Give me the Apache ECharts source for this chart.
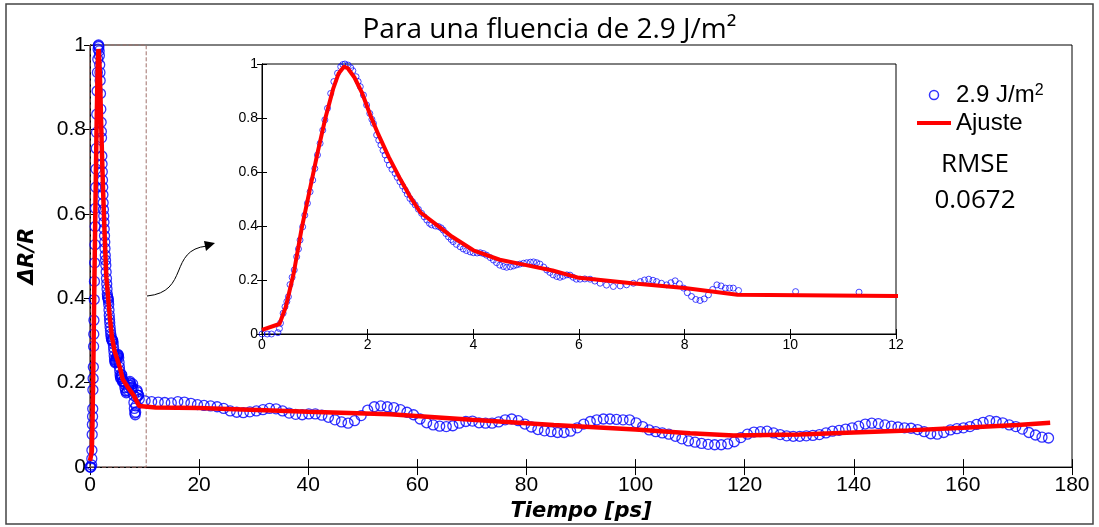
<!DOCTYPE html>
<html>
<head>
<meta charset="utf-8">
<title>Para una fluencia de 2.9 J/m2</title>
<script src="https://cdn.jsdelivr.net/npm/echarts@6/dist/echarts.min.js"></script>
<style>
  html, body { margin: 0; padding: 0; background: #fff; }
  #chart { width: 1099px; height: 527px; }
</style>
</head>
<body>
<div id="chart"></div>
<script>
// medidas 0 - 12 ps (muestreo fino)  [t (ps), dR/R]
const earlyData = [
  [0, 0.0], [0.1, 0.0], [0.18, 0.0], [0.3, 0.005], [0.33, 0.02], [0.35, 0.04], [0.4, 0.077],
  [0.435, 0.101], [0.47, 0.12], [0.5, 0.138], [0.53, 0.183], [0.57, 0.21], [0.61, 0.237],
  [0.656, 0.286], [0.69, 0.315], [0.72, 0.348], [0.77, 0.397], [0.81, 0.44], [0.86, 0.484],
  [0.91, 0.527], [0.96, 0.57], [1.0, 0.613], [1.05, 0.663], [1.1, 0.706], [1.15, 0.755],
  [1.19, 0.793], [1.24, 0.836], [1.3, 0.891], [1.36, 0.935], [1.43, 0.966], [1.49, 0.99],
  [1.53, 0.998], [1.57, 1.0], [1.63, 0.996], [1.68, 0.986], [1.72, 0.975], [1.78, 0.953],
  [1.82, 0.935], [1.86, 0.916], [1.92, 0.885], [1.98, 0.848], [2.04, 0.817], [2.08, 0.795],
  [2.11, 0.78], [2.17, 0.737], [2.21, 0.718], [2.25, 0.7], [2.29, 0.68], [2.33, 0.663],
  [2.37, 0.645], [2.41, 0.626], [2.46, 0.61], [2.52, 0.595], [2.56, 0.58], [2.61, 0.564],
  [2.66, 0.548], [2.71, 0.533], [2.75, 0.518], [2.8, 0.502], [2.85, 0.49], [2.9, 0.478],
  [2.96, 0.462], [3.02, 0.447], [3.07, 0.434], [3.12, 0.422], [3.17, 0.41], [3.21, 0.404],
  [3.28, 0.4], [3.34, 0.398], [3.39, 0.393], [3.43, 0.385], [3.48, 0.372], [3.53, 0.36],
  [3.58, 0.35], [3.62, 0.342], [3.68, 0.332], [3.75, 0.323], [3.81, 0.315], [3.87, 0.309],
  [3.94, 0.304], [4.0, 0.301], [4.07, 0.3], [4.13, 0.301], [4.19, 0.298], [4.25, 0.292],
  [4.32, 0.283], [4.38, 0.274], [4.44, 0.264], [4.5, 0.255], [4.57, 0.25], [4.63, 0.247],
  [4.7, 0.249], [4.76, 0.252], [4.82, 0.256], [4.88, 0.259], [4.95, 0.262], [5.01, 0.264],
  [5.08, 0.266], [5.14, 0.267], [5.2, 0.264], [5.26, 0.259], [5.33, 0.248], [5.39, 0.237],
  [5.45, 0.228], [5.51, 0.219], [5.58, 0.213], [5.64, 0.21], [5.7, 0.214], [5.77, 0.219],
  [5.83, 0.218], [5.89, 0.21], [5.95, 0.203], [6.02, 0.203], [6.11, 0.204], [6.21, 0.203],
  [6.3, 0.196], [6.4, 0.188], [6.52, 0.181], [6.65, 0.176], [6.78, 0.178], [6.9, 0.182],
  [7.03, 0.188], [7.16, 0.194], [7.24, 0.2], [7.32, 0.203], [7.4, 0.199], [7.47, 0.194],
  [7.56, 0.188], [7.66, 0.182], [7.74, 0.19], [7.82, 0.197], [7.9, 0.186], [7.98, 0.17],
  [8.05, 0.153], [8.13, 0.139], [8.21, 0.128], [8.29, 0.124], [8.37, 0.13], [8.45, 0.145],
  [8.53, 0.165], [8.61, 0.182], [8.69, 0.178], [8.77, 0.17], [8.85, 0.17], [8.92, 0.17],
  [9.02, 0.161], [10.1, 0.157], [11.3, 0.155]
]

// medidas 12 - 176 ps
const tailData = [
  [12.5, 0.154], [13.7, 0.153], [14.9, 0.152], [16.1, 0.155], [17.3, 0.154], [18.5, 0.151],
  [19.7, 0.148], [20.9, 0.146], [22.1, 0.145], [23.3, 0.143], [24.5, 0.139], [25.7, 0.133],
  [26.9, 0.13], [28.1, 0.129], [29.3, 0.131], [30.5, 0.133], [31.7, 0.136], [32.9, 0.139],
  [34.1, 0.138], [35.3, 0.133], [36.5, 0.128], [37.7, 0.125], [38.9, 0.124], [40.1, 0.126],
  [41.3, 0.126], [42.5, 0.123], [43.7, 0.118], [44.9, 0.112], [46.1, 0.107], [47.3, 0.104],
  [48.5, 0.11], [49.7, 0.122], [50.9, 0.135], [52.1, 0.143], [53.3, 0.145], [54.5, 0.143],
  [55.7, 0.141], [56.9, 0.136], [58.1, 0.13], [59.3, 0.124], [60.5, 0.114], [61.7, 0.105],
  [62.9, 0.1], [64.1, 0.097], [65.3, 0.096], [66.5, 0.098], [67.7, 0.104], [68.9, 0.108],
  [70.1, 0.109], [71.3, 0.105], [72.5, 0.104], [73.7, 0.104], [74.9, 0.107], [76.1, 0.112],
  [77.3, 0.114], [78.5, 0.11], [79.7, 0.102], [80.9, 0.095], [82.1, 0.089], [83.3, 0.086],
  [84.5, 0.084], [85.7, 0.082], [86.9, 0.082], [88.1, 0.085], [89.3, 0.093], [90.5, 0.102],
  [91.7, 0.108], [92.9, 0.112], [94.1, 0.114], [95.3, 0.114], [96.5, 0.113], [97.7, 0.112],
  [98.9, 0.112], [100.1, 0.105], [101.3, 0.096], [102.5, 0.088], [103.7, 0.084], [104.9, 0.081],
  [106.1, 0.078], [107.3, 0.073], [108.5, 0.067], [109.7, 0.062], [110.9, 0.059], [112.1, 0.056],
  [113.3, 0.054], [114.5, 0.053], [115.7, 0.053], [116.9, 0.055], [118.1, 0.06], [119.3, 0.07],
  [120.5, 0.078], [121.7, 0.083], [122.9, 0.084], [124.1, 0.085], [125.3, 0.081], [126.5, 0.077],
  [127.7, 0.074], [128.9, 0.073], [130.1, 0.073], [131.3, 0.074], [132.5, 0.075], [133.7, 0.077],
  [134.9, 0.081], [136.1, 0.085], [137.3, 0.087], [138.5, 0.09], [139.7, 0.093], [140.9, 0.097],
  [142.1, 0.102], [143.3, 0.104], [144.5, 0.103], [145.7, 0.1], [146.9, 0.097], [148.1, 0.095],
  [149.3, 0.093], [150.5, 0.092], [151.7, 0.089], [152.9, 0.084], [154.1, 0.079], [155.3, 0.078],
  [156.5, 0.082], [157.7, 0.088], [158.9, 0.091], [160.1, 0.093], [161.3, 0.096], [162.5, 0.101],
  [163.7, 0.106], [164.9, 0.11], [166.1, 0.108], [167.3, 0.105], [168.5, 0.1], [169.7, 0.096],
  [170.9, 0.09], [172.1, 0.082], [173.3, 0.076], [174.5, 0.071], [175.7, 0.069]
]

// curva de ajuste
const fitData = [
  [0, 0.015], [0.33, 0.037], [0.45, 0.1], [0.6, 0.225], [0.75, 0.39], [0.9, 0.53],
  [1.05, 0.67], [1.2, 0.8], [1.35, 0.91], [1.45, 0.965], [1.55, 0.99], [1.62, 0.985],
  [1.75, 0.95], [1.9, 0.89], [2.05, 0.81], [2.2, 0.74], [2.4, 0.655], [2.6, 0.58],
  [2.8, 0.51], [3.0, 0.45], [3.3, 0.405], [3.6, 0.36], [4.0, 0.31], [4.5, 0.275],
  [5.0, 0.255], [5.5, 0.235], [6.0, 0.208], [7.0, 0.188], [8.0, 0.17], [9.0, 0.145],
  [12, 0.141], [20, 0.14], [40, 0.131], [55, 0.125], [70, 0.112], [85, 0.1], [100, 0.089],
  [110, 0.08], [118, 0.075], [130, 0.077], [140, 0.082], [150, 0.087], [160, 0.093],
  [170, 0.1], [176, 0.105]
]

const zoomBox = [10.3, 1]   // recuadro discontinuo: hasta t = 10.3 ps
const rmseText = ['RMSE', '0.0672']

const allData = earlyData.concat(tailData)
const chart = echarts.init(document.getElementById('chart'))

const tickFont = { fontFamily: 'Liberation Sans', color: '#000' }

const option = {
  animation: false,
  backgroundColor: '#fff',
  title: {
    text: 'Para una fluencia de 2.9 J/m²',
    left: 'center',
    top: 11,
    textStyle: { fontFamily: 'Open Sans', fontSize: 28, fontWeight: 'normal', color: '#000' }
  },
  legend: {
    orient: 'vertical',
    left: 910,
    top: 78,
    padding: 5,
    itemWidth: 34,
    itemHeight: 9,
    itemGap: 4,
    textStyle: {
      fontFamily: 'Liberation Sans', fontSize: 24, color: '#000',
      rich: {
        sup: { fontFamily: 'Liberation Sans', fontSize: 16, verticalAlign: 'top', lineHeight: 12 }
      }
    },
    formatter: name => name === '2.9 J/m2' ? '2.9 J/m{sup|2}' : name,
    data: [
      { name: '2.9 J/m2', icon: 'circle', itemStyle: { color: 'transparent', borderColor: '#0000ff', borderWidth: 1.5 } },
      { name: 'Ajuste', lineStyle: { width: 4, color: '#ff0000' }, itemStyle: { color: 'transparent', borderWidth: 0, opacity: 0 } }
    ]
  },
  grid: [
    { left: 90, top: 45, width: 982, height: 426, show: true, borderColor: '#000', borderWidth: 1 },
    { left: 262, top: 64, width: 634, height: 270, show: true, borderColor: '#000', borderWidth: 1,
      backgroundColor: '#fff', z: 5 }
  ],
  xAxis: [
    {
      gridIndex: 0, type: 'value', min: 0, max: 180, interval: 20,
      name: 'Tiempo [ps]', nameLocation: 'middle', nameGap: 28,
      nameTextStyle: { fontFamily: 'DejaVu Sans', fontSize: 21, fontWeight: 'bold', fontStyle: 'italic', color: '#000' },
      axisLine: { lineStyle: { color: '#000' } },
      axisTick: { inside: true, length: 8, lineStyle: { color: '#000' } },
      axisLabel: { ...tickFont, fontSize: 21, margin: 8 },
      splitLine: { show: false }
    },
    {
      gridIndex: 0, type: 'value', min: 0, max: 180, interval: 20, position: 'top',
      axisLine: { lineStyle: { color: '#000' } },
      axisTick: { inside: true, length: 8, lineStyle: { color: '#000' } },
      axisLabel: { show: false }, splitLine: { show: false }
    },
    {
      gridIndex: 1, type: 'value', min: 0, max: 12, interval: 2, z: 6,
      axisLine: { lineStyle: { color: '#000' } },
      axisTick: { inside: true, length: 5, lineStyle: { color: '#000' } },
      axisLabel: { ...tickFont, fontSize: 14, margin: 4 },
      splitLine: { show: false }
    },
    {
      gridIndex: 1, type: 'value', min: 0, max: 12, interval: 2, position: 'top', z: 6,
      axisLine: { lineStyle: { color: '#000' } },
      axisTick: { inside: true, length: 5, lineStyle: { color: '#000' } },
      axisLabel: { show: false }, splitLine: { show: false }
    }
  ],
  yAxis: [
    {
      gridIndex: 0, type: 'value', min: 0, max: 1, interval: 0.2,
      name: 'ΔR/R', nameLocation: 'middle', nameGap: 52,
      nameTextStyle: { fontFamily: 'DejaVu Sans', fontSize: 21, fontWeight: 'bold', fontStyle: 'italic', color: '#000' },
      axisLine: { show: true, lineStyle: { color: '#000' } },
      axisTick: { show: true, inside: true, length: 6, lineStyle: { color: '#000' } },
      axisLabel: { ...tickFont, fontSize: 21, margin: 4 },
      splitLine: { show: false }
    },
    {
      gridIndex: 0, type: 'value', min: 0, max: 1, interval: 0.2, position: 'right',
      axisLine: { show: true, lineStyle: { color: '#000' } },
      axisTick: { show: true, inside: true, length: 6, lineStyle: { color: '#000' } },
      axisLabel: { show: false }, splitLine: { show: false }
    },
    {
      gridIndex: 1, type: 'value', min: 0, max: 1, interval: 0.2, z: 6,
      axisLine: { show: true, lineStyle: { color: '#000' } },
      axisTick: { show: true, inside: true, length: 5, lineStyle: { color: '#000' } },
      axisLabel: { ...tickFont, fontSize: 14, margin: 4 },
      splitLine: { show: false }
    },
    {
      gridIndex: 1, type: 'value', min: 0, max: 1, interval: 0.2, position: 'right', z: 6,
      axisLine: { show: true, lineStyle: { color: '#000' } },
      axisTick: { show: true, inside: true, length: 5, lineStyle: { color: '#000' } },
      axisLabel: { show: false }, splitLine: { show: false }
    }
  ],
  series: [
    {
      name: '2.9 J/m2', type: 'scatter', xAxisIndex: 0, yAxisIndex: 0,
      data: allData, symbol: 'circle', symbolSize: 10,
      itemStyle: { color: 'transparent', borderColor: '#0000ff', borderWidth: 1.3 },
      markArea: {
        silent: true,
        itemStyle: { color: 'transparent', borderColor: '#a0706a', borderWidth: 1, borderType: 'dashed' },
        data: [[{ coord: [0, 0] }, { coord: zoomBox }]]
      }
    },
    {
      name: 'Ajuste', type: 'line', xAxisIndex: 0, yAxisIndex: 0,
      data: fitData, showSymbol: false, symbol: 'none', z: 3,
      lineStyle: { color: '#ff0000', width: 4.5 }, itemStyle: { color: '#ff0000' }
    },
    {
      name: 'inset-data', type: 'scatter', xAxisIndex: 2, yAxisIndex: 2, z: 7,
      data: earlyData, symbol: 'circle', symbolSize: 6, clip: true,
      itemStyle: { color: 'transparent', borderColor: '#0000ff', borderWidth: 0.9 }
    },
    {
      name: 'inset-fit', type: 'line', xAxisIndex: 2, yAxisIndex: 2, z: 8,
      data: fitData, showSymbol: false, symbol: 'none', clip: true,
      lineStyle: { color: '#ff0000', width: 4 }
    }
  ],
  graphic: [
    // marco de la figura
    { type: 'rect', shape: { x: 6, y: 4, width: 1087, height: 520 }, style: { fill: 'none', stroke: '#444', lineWidth: 1.5 }, z: -1 },
    // flecha hacia el recuadro ampliado
    { type: 'bezierCurve', shape: { x1: 147, y1: 296, cpx1: 190, cpy1: 292, cpx2: 168, cpy2: 250, x2: 207, y2: 246 },
      style: { stroke: '#000', lineWidth: 1, fill: 'none' }, z: 10 },
    { type: 'polygon', shape: { points: [[215, 243], [204, 241], [206, 251]] }, style: { fill: '#000' }, z: 10 },
    // RMSE
    { type: 'text', x: 975, y: 165, style: { text: rmseText[0], fontFamily: 'Open Sans', fontSize: 26, fill: '#000', align: 'center', verticalAlign: 'middle' }, z: 10 },
    { type: 'text', x: 975, y: 201, style: { text: rmseText[1], fontFamily: 'Open Sans', fontSize: 26, fill: '#000', align: 'center', verticalAlign: 'middle' }, z: 10 }
  ]
}

chart.setOption(option)
</script>
</body>
</html>
